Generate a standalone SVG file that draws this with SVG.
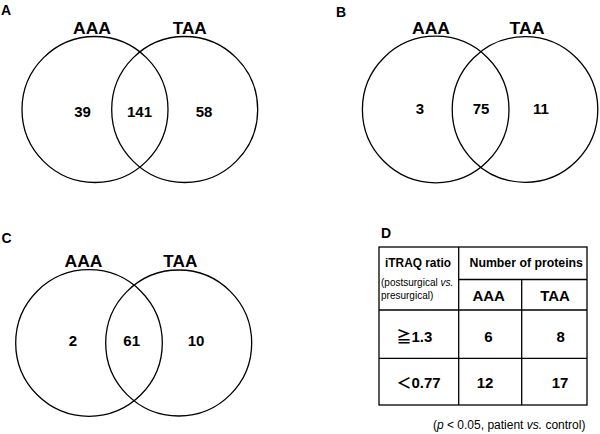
<svg xmlns="http://www.w3.org/2000/svg" width="600" height="434" viewBox="0 0 600 434">
<style>
text{font-family:"Liberation Sans",Arial,"Noto Sans CJK JP",sans-serif;fill:#000}
.p{font-size:14px;font-weight:bold}
.set{font-size:16px;font-weight:bold;text-anchor:middle}
.num{font-size:15px;font-weight:bold;text-anchor:middle}
.lab{font-size:15px;font-weight:bold}
.c{fill:none;stroke:#000;stroke-width:1.3}
.ln{stroke:#000;stroke-width:1.3;fill:none}
.h{font-size:12.3px;font-weight:bold}
.s{font-size:10px}
.f{font-size:12px}
</style>
<rect width="600" height="434" fill="#fff"/>
<g id="panelA">
<text class="p" x="1" y="14.5">A</text>
<g id="A-AAA"><circle class="c" cx="95" cy="109.5" r="73"/><text class="set" x="92" y="34" textLength="38" lengthAdjust="spacingAndGlyphs">AAA</text><text class="num" x="82.5" y="116.5">39</text></g>
<g id="A-TAA"><circle class="c" cx="184.7" cy="109.5" r="73"/><text class="set" x="189.7" y="34" textLength="34" lengthAdjust="spacingAndGlyphs">TAA</text><text class="num" x="204" y="116.5">58</text></g>
<g id="A-both"><text class="num" x="139.5" y="116.5">141</text></g>
</g>
<g id="panelB">
<text class="p" x="336" y="16.5">B</text>
<g id="B-AAA"><circle class="c" cx="435.7" cy="109.5" r="73.3"/><text class="set" x="431" y="34" textLength="38" lengthAdjust="spacingAndGlyphs">AAA</text><text class="num" x="420" y="114">3</text></g>
<g id="B-TAA"><circle class="c" cx="525" cy="109.5" r="72.8"/><text class="set" x="527" y="34" textLength="35" lengthAdjust="spacingAndGlyphs">TAA</text><text class="num" x="541" y="114">11</text></g>
<g id="B-both"><text class="num" x="481" y="114">75</text></g>
</g>
<g id="panelC">
<text class="p" x="1.5" y="243">C</text>
<g id="C-AAA"><circle class="c" cx="89" cy="343" r="73.3"/><text class="set" x="83.5" y="266.7" textLength="38" lengthAdjust="spacingAndGlyphs">AAA</text><text class="num" x="72.8" y="346">2</text></g>
<g id="C-TAA"><circle class="c" cx="178.7" cy="343" r="73"/><text class="set" x="180.3" y="266.7" textLength="34" lengthAdjust="spacingAndGlyphs">TAA</text><text class="num" x="196" y="346">10</text></g>
<g id="C-both"><text class="num" x="131.7" y="346">61</text></g>
</g>
<g id="panelD">
<text class="p" x="381" y="238">D</text>
<g id="table-lines">
<rect class="ln" x="379" y="247" width="208" height="158"/>
<line class="ln" x1="458.7" y1="247" x2="458.7" y2="405"/>
<line class="ln" x1="521.7" y1="279.5" x2="521.7" y2="405"/>
<line class="ln" x1="458.7" y1="279.5" x2="587" y2="279.5"/>
<line class="ln" x1="379" y1="310" x2="587" y2="310"/>
<line class="ln" x1="379" y1="358.3" x2="587" y2="358.3"/>
</g>
<g id="table-text">
<text class="h" x="385" y="266.7" textLength="66" lengthAdjust="spacingAndGlyphs">iTRAQ ratio</text>
<text class="h" x="469.5" y="266.7">Number of proteins</text>
<text class="s" x="381" y="286">(postsurgical <tspan font-style="italic">vs.</tspan></text>
<text class="s" x="381" y="299">presurgical)</text>
<text class="num" x="488.7" y="301">AAA</text>
<text class="num" x="555" y="301">TAA</text>
<text class="lab" x="396.5" y="341.5">≧1.3</text>
<text class="num" x="488.3" y="341.5">6</text>
<text class="num" x="560.7" y="341.5">8</text>
<text class="lab" x="396.5" y="388">＜0.77</text>
<text class="num" x="485" y="388">12</text>
<text class="num" x="560" y="388">17</text>
</g>
<text class="f" x="433" y="429">(<tspan font-style="italic">p</tspan> &lt; 0.05, patient <tspan font-style="italic">vs.</tspan> control)</text>
</g>
</svg>
